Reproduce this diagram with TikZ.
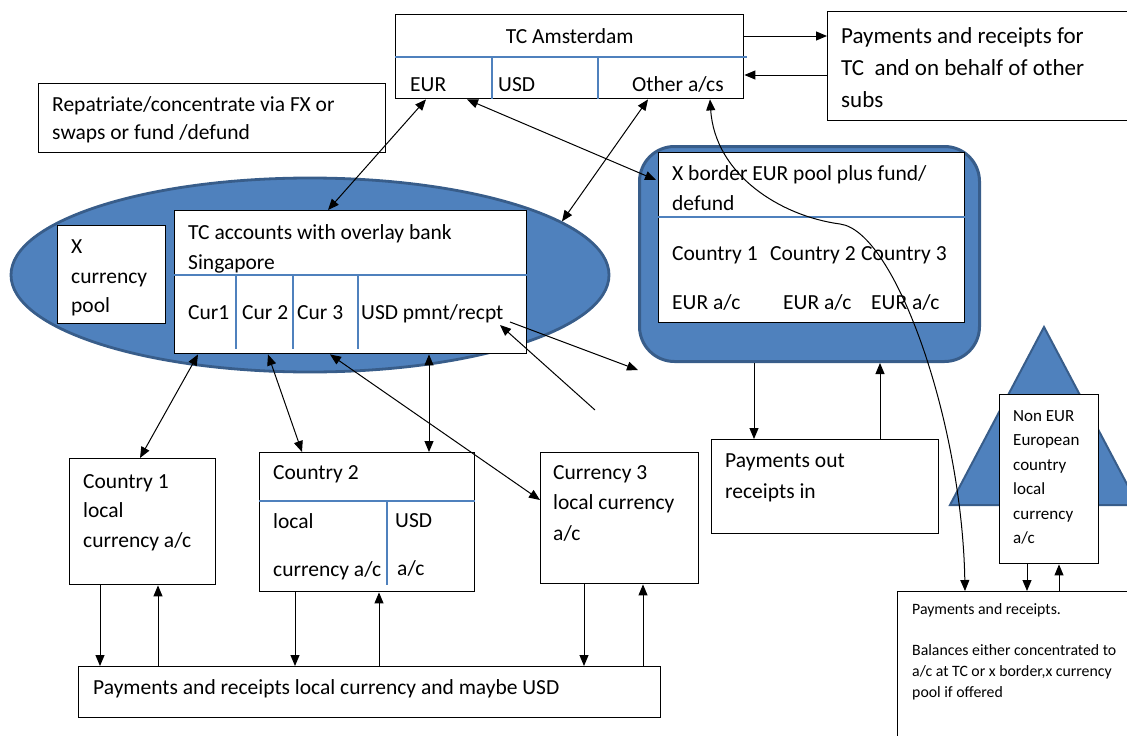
\documentclass[tikz,border=0pt]{standalone}
\usepackage{fontspec}
\setmainfont{Carlito}
\usepackage{tikz}
\usetikzlibrary{shapes.geometric,arrows.meta,calc,positioning}
\definecolor{poolblue}{HTML}{4F81BD}
\definecolor{pooledge}{HTML}{385D8A}
\newcommand{\txtmain}{\fontsize{21.5}{30}\selectfont}
\newcommand{\txtwide}{\fontsize{23}{32}\selectfont}
\newcommand{\txtmid}{\fontsize{17}{24.5}\selectfont}
\newcommand{\txtsmall}{\fontsize{15.8}{21}\selectfont}
\tikzset{
    acbox/.style   = {draw=black, line width=1.4pt, fill=white, anchor=north west, inner sep=0pt},
    acdiv/.style   = {poolblue, line width=1.1pt},
    actext/.style  = {align=left, inner sep=0pt, anchor=north west, font=\txtmain, execute at begin node=\strut},
    oneway/.style  = {black, line width=1pt, -{Triangle[length=11pt,width=9pt]}},
    twoway/.style  = {black, line width=1pt, {Triangle[length=11pt,width=9pt]}-{Triangle[length=11pt,width=9pt]}},
}

\begin{document}
\begin{tikzpicture}[x=1pt, y=-1pt]
        \useasboundingbox (0,0) rectangle (1127,736);

        \node[ellipse, draw=pooledge, fill=poolblue, line width=2.8pt, minimum width=598pt, minimum height=194pt, inner sep=0pt] (pool) at (310,275) {};
        \node[acbox, draw=pooledge, fill=poolblue, line width=3pt, rounded corners=35pt, minimum width=340pt, minimum height=215pt] (xbord) at (638,145) {};
        \filldraw[fill=poolblue, draw=pooledge, line width=2pt] (1044,327) -- (950,505) -- (1138,505) -- cycle;

        \node[acbox, minimum width=348pt, minimum height=84pt] (tc) at (395,14) {};
        \node[acbox, minimum width=310pt, minimum height=109pt] (payfor) at (827,11) {};
        \node[acbox, minimum width=347pt, minimum height=69pt] (repat) at (38,83) {};
        \node[acbox, minimum width=108pt, minimum height=98pt] (xpool) at (57,225) {};
        \node[acbox, minimum width=352pt, minimum height=143pt] (sgp) at (174,210) {};
        \node[acbox, minimum width=306pt, minimum height=170pt] (xbin) at (658,152) {};
        \node[acbox, minimum width=227pt, minimum height=94pt] (payout) at (711,439) {};
        \node[acbox, minimum width=146pt, minimum height=126pt] (c1) at (69,458) {};
        \node[acbox, minimum width=215pt, minimum height=139pt] (c2) at (259,452) {};
        \node[acbox, minimum width=158pt, minimum height=131pt] (c3) at (540,452) {};
        \node[acbox, minimum width=582pt, minimum height=51pt] (paybot) at (78,666) {};
        \node[acbox, minimum width=99pt, minimum height=169pt] (noneur) at (999,394) {};
        \node[acbox, minimum width=240pt, minimum height=160pt] (payrt) at (897,591) {};

        \node[actext, below=8pt of tc.north] (tcname) {TC Amsterdam};
        \node[actext, below right=56pt and 15pt of tc.north west] (tceur) {EUR};
        \node[actext, below right=56pt and 103pt of tc.north west] (tcusd) {USD};
        \node[actext, below right=56pt and 237pt of tc.north west] (tcoth) {Other a/cs};
        \node[actext, font=\txtwide, below right=16pt and 14pt of payfor.north west] (payfortxt) {Payments and receipts for\\TC\ \ and on behalf of other\\subs};
        \node[actext, font=\fontsize{21.5}{28}\selectfont, below right=13pt and 14pt of repat.north west] (repattxt) {Repatriate/concentrate via FX or\\swaps or fund /defund};
        \node[actext, font=\fontsize{21.5}{29.5}\selectfont, below right=15pt and 14pt of xpool.north west] (xpooltxt) {X\\currency\\pool};
        \node[actext, below right=14pt and 14pt of sgp.north west] (sgptxt) {TC accounts with overlay bank\\Singapore};
        \node[actext, below right=88pt and 14pt of sgp.north west] (cur1) {Cur1};
        \node[actext, below right=88pt and 68pt of sgp.north west] (cur2) {Cur 2};
        \node[actext, below right=88pt and 123pt of sgp.north west] (cur3) {Cur 3};
        \node[actext, below right=88pt and 187pt of sgp.north west] (usdpr) {USD pmnt/recpt};
        \node[actext, below right=13pt and 14pt of xbin.north west] (xbintxt) {X border EUR pool plus fund/\\defund};
        \node[actext, below right=94pt and 14pt of xbin.north west] (xbc1) {Country 1\\[19pt]EUR a/c};
        \node[actext, below right=94pt and 112pt of xbin.north west] (xbc2) {Country 2\\[19pt]\hspace*{13pt}EUR a/c};
        \node[actext, below right=94pt and 203pt of xbin.north west] (xbc3) {Country 3\\[19pt]\hspace*{10pt}EUR a/c};
        \node[actext, font=\fontsize{21.5}{31}\selectfont, below right=14pt and 14pt of payout.north west] (payouttxt) {Payments out\\receipts in};
        \node[actext, font=\fontsize{21.5}{29.5}\selectfont, below right=16pt and 14pt of c1.north west] (c1txt) {Country 1\\local\\currency a/c};
        \node[actext, below right=6pt and 14pt of c2.north west] (c2txt) {Country 2};
        \node[actext, below right=61pt and 14pt of c2.north west] (c2loc) {local\\[18pt]currency a/c};
        \node[actext, below right=61pt and 136pt of c2.north west] (c2usd) {USD\\[18pt]\hspace*{2pt}a/c};
        \node[actext, font=\fontsize{21.5}{30.5}\selectfont, below right=13pt and 13pt of c3.north west] (c3txt) {Currency 3\\local currency\\a/c};
        \node[actext, below right=7pt and 15pt of paybot.north west] (paybottxt) {Payments and receipts local currency and maybe USD};
        \node[actext, font=\txtmid, below right=16pt and 14pt of noneur.north west] (noneurtxt) {Non EUR\\European\\country\\local\\currency\\a/c};
        \node[actext, font=\txtsmall, below right=12pt and 15pt of payrt.north west] (payrttxt) {Payments and receipts.\\[20pt]Balances either concentrated to\\a/c at TC or x border,x currency\\pool if offered};

        \draw[acdiv] ($(tc.north west)+(0,43)$) -- ($(tc.north east)+(3,43)$);
        \draw[acdiv] ($(tc.north west)+(97,43)$) -- ($(tc.south west)+(97,0)$);
        \draw[acdiv] ($(tc.north west)+(203,43)$) -- ($(tc.south west)+(203,0)$);
        \draw[acdiv] ($(sgp.north west)+(0,65)$) -- ($(sgp.north east)+(0,65)$);
        \draw[acdiv] ($(sgp.north west)+(62,65)$) -- ($(sgp.south west)+(62,-5)$);
        \draw[acdiv] ($(sgp.north west)+(119,65)$) -- ($(sgp.south west)+(119,-5)$);
        \draw[acdiv] ($(sgp.north west)+(184,65)$) -- ($(sgp.south west)+(184,-5)$);
        \draw[acdiv] ($(xbin.north west)+(0,65)$) -- ($(xbin.north east)+(0,65)$);
        \draw[acdiv] ($(c2.north west)+(0,49)$) -- ($(c2.north east)+(0,49)$);
        \draw[acdiv] ($(c2.north west)+(128,49)$) -- ($(c2.south west)+(128,-7)$);

        \coordinate (bend) at (840,224);
        \coordinate (usdin) at (595,410);
        \coordinate (usdout) at (638,370);

        \draw[oneway] ($(tc.north east)+(0,22)$) -- ($(payfor.north west)+(0,25)$);
        \draw[oneway] ($(payfor.north west)+(0,64)$) -- ($(tc.north east)+(0,61)$);
        \draw[twoway] ($(tc.south west)+(31,0)$) -- ($(sgp.north west)+(154,0)$);
        \draw[twoway] ($(tc.south west)+(72,0)$) -- ($(xbin.north west)+(-2,28)$);
        \draw[twoway] ($(tc.south west)+(253,0)$) -- (pool.12);
        \draw[twoway] ($(tc.south west)+(315,0)$) .. controls +(5,75) and +(-60,-8) .. (bend) .. controls +(55,7) and +(-3,-170) .. ($(payrt.north west)+(68,0)$);

        \draw[twoway] ($(sgp.south west)+(24,0)$) -- ($(c1.north west)+(71,0)$);
        \draw[twoway] ($(sgp.south west)+(94,0)$) -- ($(c2.north west)+(43,0)$);
        \draw[twoway] ($(sgp.south west)+(156,0)$) -- ($(c3.north west)+(0,48)$);
        \draw[twoway] ($(sgp.south west)+(255,0)$) -- ($(c2.north west)+(170,0)$);
        \draw[oneway] (usdin) -- ($(sgp.north west)+(326,115)$);
        \draw[oneway] ($(sgp.north west)+(336,112)$) -- (usdout);

        \draw[oneway] ($(xbord.south west)+(116,0)$) -- ($(payout.north west)+(43,0)$);
        \draw[oneway] ($(payout.north west)+(169,0)$) -- ($(xbord.south west)+(242,0)$);

        \draw[oneway] ($(c1.south west)+(31,0)$) -- ($(paybot.north west)+(22,0)$);
        \draw[oneway] ($(paybot.north west)+(80,0)$) -- ($(c1.south west)+(89,0)$);
        \draw[oneway] ($(c2.south west)+(36,0)$) -- ($(paybot.north west)+(217,0)$);
        \draw[oneway] ($(paybot.north west)+(301,0)$) -- ($(c2.south west)+(120,0)$);
        \draw[oneway] ($(c3.south west)+(44,0)$) -- ($(paybot.north west)+(506,0)$);
        \draw[oneway] ($(paybot.north west)+(565,0)$) -- ($(c3.south west)+(103,0)$);

        \draw[oneway] ($(noneur.south west)+(28,0)$) -- ($(payrt.north west)+(130,0)$);
        \draw[oneway] ($(payrt.north west)+(162,0)$) -- ($(noneur.south west)+(60,0)$);
\end{tikzpicture}
\end{document}
